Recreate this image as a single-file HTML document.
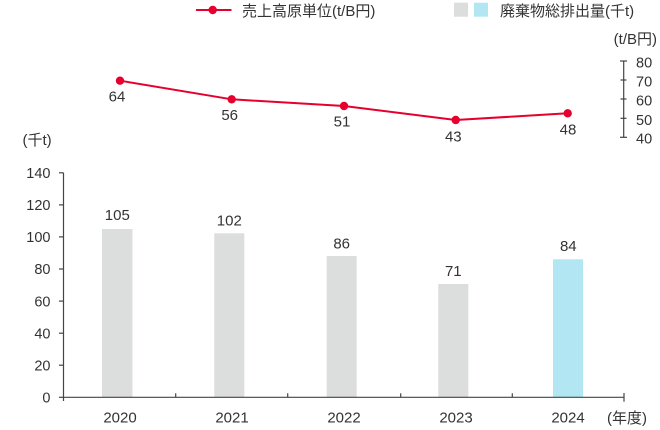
<!DOCTYPE html>
<html><head><meta charset="utf-8">
<style>
html,body{margin:0;padding:0;background:#fff;}
svg{display:block;}
text{font-family:"Liberation Sans","Noto Sans CJK JP",sans-serif;fill:#333;}
</style></head>
<body>
<svg width="660" height="430" viewBox="0 0 660 430" xmlns="http://www.w3.org/2000/svg">
<!-- Legend -->
<line x1="196" y1="10" x2="231.5" y2="10" stroke="#e6002d" stroke-width="2"/>
<circle cx="212.7" cy="10" r="4.2" fill="#e6002d"/>
<text x="242" y="16" font-size="15">売上高原単位(t/B円)</text>
<rect x="454" y="2.7" width="14" height="14" fill="#dcdddd"/>
<rect x="474" y="2.7" width="14" height="14" fill="#b2e6f3"/>
<text x="500" y="16" font-size="15">廃棄物総排出量(千t)</text>

<!-- Right axis -->
<text x="657" y="44" font-size="15" text-anchor="end">(t/B円)</text>
<line x1="623.7" y1="61" x2="623.7" y2="137.3" stroke="#444" stroke-width="1.2"/>
<g stroke="#444" stroke-width="1.2">
<line x1="620" y1="61" x2="627" y2="61"/>
<line x1="620.5" y1="80" x2="626.5" y2="80"/>
<line x1="620.5" y1="99" x2="626.5" y2="99"/>
<line x1="620.5" y1="118.3" x2="626.5" y2="118.3"/>
<line x1="620" y1="137.3" x2="627" y2="137.3"/>
</g>
<g font-size="14.5">
<text x="636" y="67.5">80</text>
<text x="636" y="86.5">70</text>
<text x="636" y="105.5">60</text>
<text x="636" y="124.8">50</text>
<text x="636" y="143.5">40</text>
</g>

<!-- Line series -->
<polyline points="120,80.7 231.7,99.3 344,106 455.7,120 567.7,113.3" fill="none" stroke="#e6002d" stroke-width="2" stroke-linejoin="round"/>
<g fill="#e6002d">
<circle cx="120" cy="80.7" r="4.2"/>
<circle cx="231.7" cy="99.3" r="4.2"/>
<circle cx="344" cy="106" r="4.2"/>
<circle cx="455.7" cy="120" r="4.2"/>
<circle cx="567.7" cy="113.3" r="4.2"/>
</g>
<g font-size="15" text-anchor="middle">
<text x="117" y="101.3">64</text>
<text x="229.7" y="120">56</text>
<text x="342" y="126.3">51</text>
<text x="453.3" y="141.3">43</text>
<text x="568" y="134.6">48</text>
</g>

<!-- Left axis -->
<text x="22.5" y="145" font-size="15">(千t)</text>
<line x1="63.5" y1="172.7" x2="63.5" y2="401" stroke="#444" stroke-width="1.2"/>
<g stroke="#444" stroke-width="1.2">
<line x1="59" y1="172.8" x2="63.5" y2="172.8"/>
<line x1="59" y1="204.9" x2="63.5" y2="204.9"/>
<line x1="59" y1="236.9" x2="63.5" y2="236.9"/>
<line x1="59" y1="269" x2="63.5" y2="269"/>
<line x1="59" y1="301.1" x2="63.5" y2="301.1"/>
<line x1="59" y1="333.2" x2="63.5" y2="333.2"/>
<line x1="59" y1="365.2" x2="63.5" y2="365.2"/>
<line x1="59" y1="397.3" x2="63.5" y2="397.3"/>
</g>
<g font-size="14.5" text-anchor="end">
<text x="50.5" y="178">140</text>
<text x="50.5" y="210.1">120</text>
<text x="50.5" y="242.1">100</text>
<text x="50.5" y="274.2">80</text>
<text x="50.5" y="306.3">60</text>
<text x="50.5" y="338.4">40</text>
<text x="50.5" y="370.4">20</text>
<text x="50.5" y="402.6">0</text>
</g>

<!-- Bars -->
<rect x="102" y="229" width="30.5" height="168.3" fill="#dcdddd"/>
<rect x="214.3" y="233.3" width="30" height="164" fill="#dcdddd"/>
<rect x="326.7" y="256" width="30" height="141.3" fill="#dcdddd"/>
<rect x="438.3" y="284" width="30" height="113.3" fill="#dcdddd"/>
<rect x="553" y="259.3" width="30" height="138" fill="#b2e6f3"/>
<g font-size="15" text-anchor="middle">
<text x="117.3" y="220">105</text>
<text x="229.3" y="225.7">102</text>
<text x="341.7" y="248.3">86</text>
<text x="453.3" y="276">71</text>
<text x="568.3" y="251">84</text>
</g>

<!-- Bottom axis -->
<line x1="63.5" y1="397.3" x2="624" y2="397.3" stroke="#444" stroke-width="1.2"/>
<g stroke="#444" stroke-width="1.2">
<line x1="175.7" y1="393.3" x2="175.7" y2="397.3"/>
<line x1="287.7" y1="393.3" x2="287.7" y2="397.3"/>
<line x1="400.7" y1="393.3" x2="400.7" y2="397.3"/>
<line x1="512.3" y1="393.3" x2="512.3" y2="397.3"/>
<line x1="624" y1="393" x2="624" y2="401.7"/>
</g>
<g font-size="15" text-anchor="middle">
<text x="120" y="422.7">2020</text>
<text x="232" y="422.7">2021</text>
<text x="344" y="422.7">2022</text>
<text x="456" y="422.7">2023</text>
<text x="568" y="422.7">2024</text>
</g>
<text x="607" y="423" font-size="15">(年度)</text>
</svg>
</body></html>
